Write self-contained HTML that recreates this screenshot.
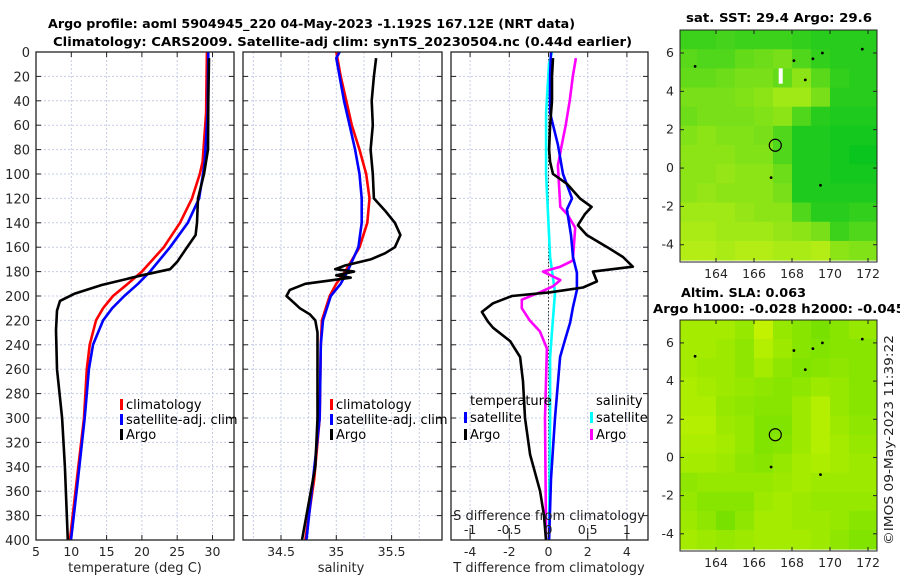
<!DOCTYPE html>
<html><head><meta charset="utf-8"><style>
html,body{margin:0;padding:0;background:#fff;}
svg{display:block;font-family:"DejaVu Sans","Liberation Sans",sans-serif;}
</style></head><body>
<svg id="fig" width="900" height="580" viewBox="0 0 900 580" xmlns="http://www.w3.org/2000/svg">
<g id="titles">
<text x="48" y="28" font-size="12.5" font-weight="bold" fill="#000" textLength="527" lengthAdjust="spacingAndGlyphs">Argo profile: aoml 5904945_220 04-May-2023 -1.192S 167.12E (NRT data)</text>
<text x="53" y="46" font-size="12.5" font-weight="bold" fill="#000" textLength="579" lengthAdjust="spacingAndGlyphs">Climatology: CARS2009. Satellite-adj clim: synTS_20230504.nc (0.44d earlier)</text>
<text x="686" y="22" font-size="12.5" font-weight="bold" textLength="186" lengthAdjust="spacingAndGlyphs">sat. SST: 29.4 Argo: 29.6</text>
<text x="681" y="297" font-size="12.5" font-weight="bold" textLength="125" lengthAdjust="spacingAndGlyphs">Altim. SLA: 0.063</text>
<text x="653" y="313" font-size="12.5" font-weight="bold" textLength="252" lengthAdjust="spacingAndGlyphs">Argo h1000: -0.028 h2000: -0.045</text>
<text transform="translate(893,545) rotate(-90)" font-size="12" fill="#222" textLength="210" lengthAdjust="spacingAndGlyphs">©IMOS 09-May-2023 11:39:22</text>
</g>
<g id="plots"></g>
</svg>
<script>
// ---- data ----
const depthTicks = [0,20,40,60,80,100,120,140,160,180,200,220,240,260,280,300,320,340,360,380,400];
const tempTicks = [5,10,15,20,25,30];
const salTicks = [34.5,35,35.5];
const dTTicks = [-4,-2,0,2,4];
const dSTicks = [-1,-0.5,0,0.5,1];

const tClimDepth = [0,50,90,100,120,140,160,180,190,200,210,220,240,260,300,350,400];
const tClimVal   = [29.2,29.1,28.6,28.2,27.1,25.4,23.1,20.0,18.0,15.9,14.5,13.5,12.6,12.2,11.8,10.8,9.8];
const tSatDepth = [0,50,90,100,120,140,160,180,190,200,210,220,240,260,300,350,400];
const tSatVal   = [29.4,29.3,28.9,28.65,28.1,26.5,24.0,21.15,19.45,17.5,15.8,14.5,13.07,12.5,11.9,10.95,9.96];
const tArgoDepth = [5,40,80,90,100,120,140,145,150,160,172,178,183,191,198,204,212,228,260,300,340,400];
const tArgoVal   = [29.5,29.4,29.36,29.08,28.8,27.95,27.8,27.7,27.6,26.4,25.0,24.0,20.0,14.3,10.5,8.4,7.97,7.83,7.97,8.7,9.1,9.5];

const sClimDepth = [0,20,40,60,80,100,120,140,160,180,190,200,220,240,300,350,400];
const sClimVal   = [35.0,35.04,35.09,35.14,35.21,35.27,35.3,35.28,35.21,35.08,35.0,34.94,34.87,34.86,34.85,34.8,34.72];
const sSatDepth = [0,5,20,40,60,80,100,120,140,160,180,190,200,220,240,300,400];
const sSatVal   = [35.03,35.0,35.03,35.07,35.12,35.17,35.21,35.23,35.23,35.2,35.1,35.04,34.95,34.88,34.86,34.85,34.73];
const sArgoDepth = [5,20,40,60,80,100,120,130,140,150,160,165,170,175,178,180,183,185,190,195,200,205,210,215,220,230,260,300,340,400];
const sArgoVal   = [35.36,35.34,35.32,35.33,35.31,35.33,35.34,35.44,35.53,35.58,35.53,35.44,35.31,35.08,34.99,35.16,35.0,35.13,34.72,34.58,34.55,34.61,34.67,34.76,34.81,34.83,34.83,34.83,34.81,34.69];

const dTSatDepth = [0,20,50,76,100,120,129,150,168,181,195,209,222,236,250,300,350,400];
const dTSatVal   = [0.13,0.08,0.08,0.48,0.74,1.2,0.94,1.15,1.25,1.45,1.45,1.25,1.1,0.84,0.59,0.33,0.13,0.03];
const dTArgoDepth = [5,20,40,60,80,90,100,108,120,127,133,142,150,160,168,176,180,188,193,197,200,206,213,221,226,237,250,270,300,330,360,380,400];
const dTArgoVal   = [0.23,0.18,0.18,0.08,0.03,0.08,0.23,0.94,1.6,2.2,1.85,1.5,1.95,3.0,3.8,4.3,2.27,2.47,1.76,0.08,-1.86,-2.83,-3.4,-3.09,-2.83,-1.96,-1.45,-1.3,-1.2,-0.94,-0.43,-0.23,-0.13];
const dSSatDepth = [0,10,50,100,168,197,250,300,400];
const dSSatVal   = [0.045,0.006,-0.03,-0.03,0.02,0.083,0.02,0.02,0.006];
const dSArgoDepth = [5,20,40,60,76,93,127,133,144,171,176,180,187,192,197,203,210,220,229,243,300,400];
const dSArgoVal   = [0.35,0.31,0.27,0.22,0.17,0.12,0.15,0.24,0.34,0.31,0.15,-0.07,0.15,0.06,-0.11,-0.34,-0.34,-0.24,-0.11,-0.02,-0.045,-0.03];

const lonTicks = [164,166,168,170,172];
const latTicks = [6,4,2,0,-2,-4];
const sstGrid = [
[0.7,0.7,0.65,0.7,0.7,0.7,0.75,0.8,0.8,0.8,0.8],
[0.55,0.6,0.6,0.5,0.45,0.4,0.6,0.75,0.8,0.8,0.8],
[0.5,0.5,0.45,0.4,0.4,0.5,0.3,0.55,0.75,0.8,0.8],
[0.4,0.4,0.4,0.35,0.3,0.2,0.2,0.4,0.8,0.8,0.8],
[0.45,0.4,0.4,0.4,0.35,0.3,0.6,0.8,0.85,0.85,0.85],
[0.35,0.3,0.35,0.35,0.4,0.6,0.85,0.85,0.9,0.9,0.9],
[0.3,0.3,0.3,0.35,0.35,0.6,0.85,0.85,0.9,0.95,0.95],
[0.3,0.3,0.25,0.3,0.3,0.45,0.85,0.85,0.9,0.9,0.9],
[0.3,0.25,0.3,0.3,0.3,0.4,0.85,0.85,0.85,0.85,0.85],
[0.2,0.2,0.2,0.25,0.3,0.3,0.6,0.8,0.8,0.75,0.75],
[0.15,0.15,0.2,0.2,0.2,0.25,0.3,0.4,0.7,0.6,0.6],
[0.1,0.1,0.15,0.1,0.1,0.15,0.15,0.1,0.3,0.35,0.35]];
const slaGrid = [
[0.3,0.3,0.3,0.4,0.1,0.4,0.5,0.6,0.5,0.4,0.4],
[0.3,0.3,0.35,0.45,0.2,0.35,0.5,0.55,0.5,0.5,0.5],
[0.3,0.35,0.35,0.45,0.3,0.45,0.55,0.5,0.45,0.5,0.5],
[0.25,0.3,0.35,0.4,0.45,0.5,0.45,0.35,0.4,0.5,0.5],
[0.25,0.25,0.4,0.45,0.5,0.5,0.35,0.2,0.4,0.5,0.5],
[0.2,0.2,0.35,0.4,0.55,0.55,0.35,0.2,0.35,0.45,0.45],
[0.25,0.25,0.3,0.4,0.55,0.5,0.35,0.2,0.3,0.4,0.4],
[0.3,0.3,0.35,0.45,0.5,0.4,0.3,0.25,0.3,0.35,0.35],
[0.45,0.4,0.4,0.4,0.4,0.35,0.3,0.35,0.35,0.35,0.35],
[0.4,0.5,0.5,0.5,0.35,0.3,0.35,0.4,0.4,0.4,0.4],
[0.35,0.45,0.6,0.45,0.3,0.3,0.35,0.35,0.4,0.5,0.5],
[0.3,0.35,0.4,0.35,0.3,0.3,0.3,0.35,0.45,0.55,0.55]];
const argoLon = 167.12, argoLat = 1.19;

// ---- drawing ----
const NS = "http://www.w3.org/2000/svg";
const root = document.getElementById('plots');
function mk(tag, attrs, parent){ const e=document.createElementNS(NS,tag); for(const k in attrs) e.setAttribute(k,attrs[k]); (parent||root).appendChild(e); return e; }
const Y0=52, Y1=540;
const yD = d => Y0 + d*(Y1-Y0)/400;
const xT = t => 36 + (t-5)*7.06;
const xS = s => 281 + (s-34.5)*110.6;
const xdT = v => 548.5 + v*19.6;
const xdS = v => 548.5 + v*78.4;

function panel(name, x0, x1, gridXs, ticks, fmtX, labelY){
  const g = mk('g',{});
  
  
  mk('rect',{x:x0,y:Y0,width:x1-x0,height:Y1-Y0,fill:'#fff'},g);
  depthTicks.forEach(d=>{
    const l=mk('line',{x1:x0,x2:x1,y1:yD(d),y2:yD(d),stroke:'#c5cbe6','stroke-width':1,'stroke-dasharray':'2,2'},g);
    
    
    mk('line',{x1:x0,x2:x0+5,y1:yD(d),y2:yD(d),stroke:'#222'},g);
    mk('line',{x1:x1-5,x2:x1,y1:yD(d),y2:yD(d),stroke:'#222'},g);
    if(labelY){
      const t=mk('text',{x:x0-6,y:yD(d)+5,'text-anchor':'end','font-size':13,fill:'#262626'},g);
      t.textContent=d;
      
      
    }
  });
  gridXs.forEach(x=>{
    const l=mk('line',{x1:x,x2:x,y1:Y0,y2:Y1,stroke:'#c5cbe6','stroke-width':1,'stroke-dasharray':'2,2'},g);
    
    
  });
  ticks.forEach(([v,x])=>{
    mk('line',{x1:x,x2:x,y1:Y1-5,y2:Y1,stroke:'#222'},g);
    mk('line',{x1:x,x2:x,y1:Y0,y2:Y0+5,stroke:'#222'},g);
    if(fmtX){
      const t=mk('text',{x:x,y:556,'text-anchor':'middle','font-size':12.5,fill:'#262626'},g);
      t.textContent=fmtX(v);
      
      
    }
  });
  return g;
}
function frame(g,x0,x1){ mk('rect',{x:x0,y:Y0,width:x1-x0,height:Y1-Y0,fill:'none',stroke:'#222','stroke-width':1.3},g); }
function line(g, name, depths, vals, xf, color, w){
  const pts = depths.map((d,i)=>xf(vals[i]).toFixed(1)+','+yD(d).toFixed(1)).join(' ');
  const p=mk('polyline',{points:pts,fill:'none',stroke:color,'stroke-width':w||2.6,'stroke-linejoin':'round'},g);
  
  
}
function legendEntry(g,name,x,y,color,label){
  const e=mk('g',{},g);
  
  
  mk('rect',{x:x,y:y-10,width:3,height:11,fill:color},e);
  const t=mk('text',{x:x+6,y:y,'font-size':13,fill:'#000'},e);
  t.textContent=label;
}

// Panel 1: temperature
const g1 = panel('temperature-panel',36,234,tempTicks.map(xT),tempTicks.map(v=>[v,xT(v)]),v=>v,true);
line(g1,'temperature-climatology-line',tClimDepth,tClimVal,xT,'#f00');
line(g1,'temperature-satellite-line',tSatDepth,tSatVal,xT,'#00f');
line(g1,'temperature-argo-line',tArgoDepth,tArgoVal,xT,'#000');
frame(g1,36,234);
legendEntry(g1,'legend-climatology',120,409,'#f00','climatology');
legendEntry(g1,'legend-satellite-adj',120,424,'#00f','satellite-adj. clim');
legendEntry(g1,'legend-argo',120,439,'#000','Argo');
let t=mk('text',{x:135,y:572,'text-anchor':'middle','font-size':13,fill:'#262626'},g1); t.textContent='temperature (deg C)';



// Panel 2: salinity
const g2 = panel('salinity-panel',243,442,[34.25,34.5,34.75,35,35.25,35.5,35.75].map(xS),salTicks.map(v=>[v,xS(v)]),v=>v,false);
line(g2,'salinity-climatology-line',sClimDepth,sClimVal,xS,'#f00');
line(g2,'salinity-satellite-line',sSatDepth,sSatVal,xS,'#00f');
line(g2,'salinity-argo-line',sArgoDepth,sArgoVal,xS,'#000');
frame(g2,243,442);
legendEntry(g2,'legend-climatology-2',330,409,'#f00','climatology');
legendEntry(g2,'legend-satellite-adj-2',330,424,'#00f','satellite-adj. clim');
legendEntry(g2,'legend-argo-2',330,439,'#000','Argo');
t=mk('text',{x:341,y:572,'text-anchor':'middle','font-size':13,fill:'#262626'},g2); t.textContent='salinity';



// Panel 3: differences
const g3 = panel('difference-panel',451,648,dTTicks.map(xdT),dTTicks.map(v=>[v,xdT(v)]),v=>v,false);
mk('line',{x1:xdT(0),x2:xdT(0),y1:Y0,y2:Y1,stroke:'#333','stroke-width':1,'stroke-dasharray':'1.5,2'},g3);
line(g3,'salinity-satellite-diff-line',dSSatDepth,dSSatVal,xdS,'#0ff');
line(g3,'salinity-argo-diff-line',dSArgoDepth,dSArgoVal,xdS,'#f0f');
line(g3,'temperature-satellite-diff-line',dTSatDepth,dTSatVal,xdT,'#00f');
line(g3,'temperature-argo-diff-line',dTArgoDepth,dTArgoVal,xdT,'#000');
frame(g3,451,648);
dSTicks.forEach(v=>{
  mk('line',{x1:xdS(v),x2:xdS(v),y1:528,y2:538,stroke:'#222'},g3);
  const tt=mk('text',{x:xdS(v),y:534,'text-anchor':'middle','font-size':12.5,fill:'#222'},g3);
  tt.textContent=v;
  
  
});
t=mk('text',{x:549,y:520,'text-anchor':'middle','font-size':13,fill:'#222'},g3); t.textContent='S difference from climatology';


t=mk('text',{x:549,y:572,'text-anchor':'middle','font-size':13,fill:'#262626'},g3); t.textContent='T difference from climatology';


t=mk('text',{x:470,y:405,'font-size':13},g3); t.textContent='temperature';


t=mk('text',{x:596,y:405,'font-size':13},g3); t.textContent='salinity';


legendEntry(g3,'legend-t-satellite',464,422,'#00f','satellite');
legendEntry(g3,'legend-t-argo',464,439,'#000','Argo');
legendEntry(g3,'legend-s-satellite',590,422,'#0ff','satellite');
legendEntry(g3,'legend-s-argo',590,439,'#f0f','Argo');

// Maps
function lerp(a,b,v){return Math.round(a+(b-a)*v);}
function drawMap(name, top, bottom, grid, c0, c1){
  const g=mk('g',{});
  
  
  const L=680,R=877;
  const xL = lon => 716 + (lon-164)*19;
  const yL = lat => (top + (bottom-top)*(7.2-lat)/12.1);
  const rows=grid.length, cols=grid[0].length;
  for(let r=0;r<rows;r++) for(let c=0;c<cols;c++){
    const v=grid[r][c];
    const lon0=162+c, lat0=7.2-r;
    const x=Math.max(L,xL(lon0)), x2=Math.min(R,xL(lon0+1));
    const y=Math.max(top,yL(lat0)), y2=Math.min(bottom,yL(lat0-1));
    if(x2<=x||y2<=y) continue;
    const cell=mk('rect',{x:x,y:y,width:x2-x+0.5,height:y2-y+0.5,fill:`rgb(${lerp(c0[0],c1[0],v)},${lerp(c0[1],c1[1],v)},${lerp(c0[2],c1[2],v)})`},g);
    
    
  }
  [[162.9,5.3],[166.9,-0.5],[168.1,5.6],[168.7,4.6],[169.1,5.7],[169.5,-0.9],[169.6,6.0],[171.7,6.2]].forEach(p=>{
    mk('circle',{cx:xL(p[0]),cy:yL(p[1]),r:1.4,fill:'#000'},g);
  });
  const m=mk('circle',{cx:xL(argoLon),cy:yL(argoLat),r:6,fill:'none',stroke:'#000','stroke-width':1.2},g);
  
  
  mk('rect',{x:L,y:top,width:R-L,height:bottom-top,fill:'none',stroke:'#222','stroke-width':1},g);
  lonTicks.forEach(v=>{
    mk('line',{x1:xL(v),x2:xL(v),y1:bottom-4,y2:bottom,stroke:'#222'},g);
    mk('line',{x1:xL(v),x2:xL(v),y1:top,y2:top+4,stroke:'#222'},g);
    const tt=mk('text',{x:xL(v),y:bottom+16,'text-anchor':'middle','font-size':12.5,fill:'#262626'},g); tt.textContent=v;
    
    
  });
  latTicks.forEach(v=>{
    mk('line',{x1:L,x2:L+4,y1:yL(v),y2:yL(v),stroke:'#222'},g);
    mk('line',{x1:R-4,x2:R,y1:yL(v),y2:yL(v),stroke:'#222'},g);
    const tt=mk('text',{x:L-6,y:yL(v)+4,'text-anchor':'end','font-size':12.5,fill:'#262626'},g); tt.textContent=v;
    
    
  });
  return {g,xL,yL};
}
const m1=drawMap('sst-map',30,262,sstGrid,[200,242,20],[0,195,30]);
mk('rect',{x:m1.xL(167.3),y:m1.yL(5.2),width:4,height:m1.yL(4.4)-m1.yL(5.2),fill:'#fff'},m1.g);
drawMap('sla-map',320,551,slaGrid,[210,245,0],[60,212,0]);
</script>
</body></html>
